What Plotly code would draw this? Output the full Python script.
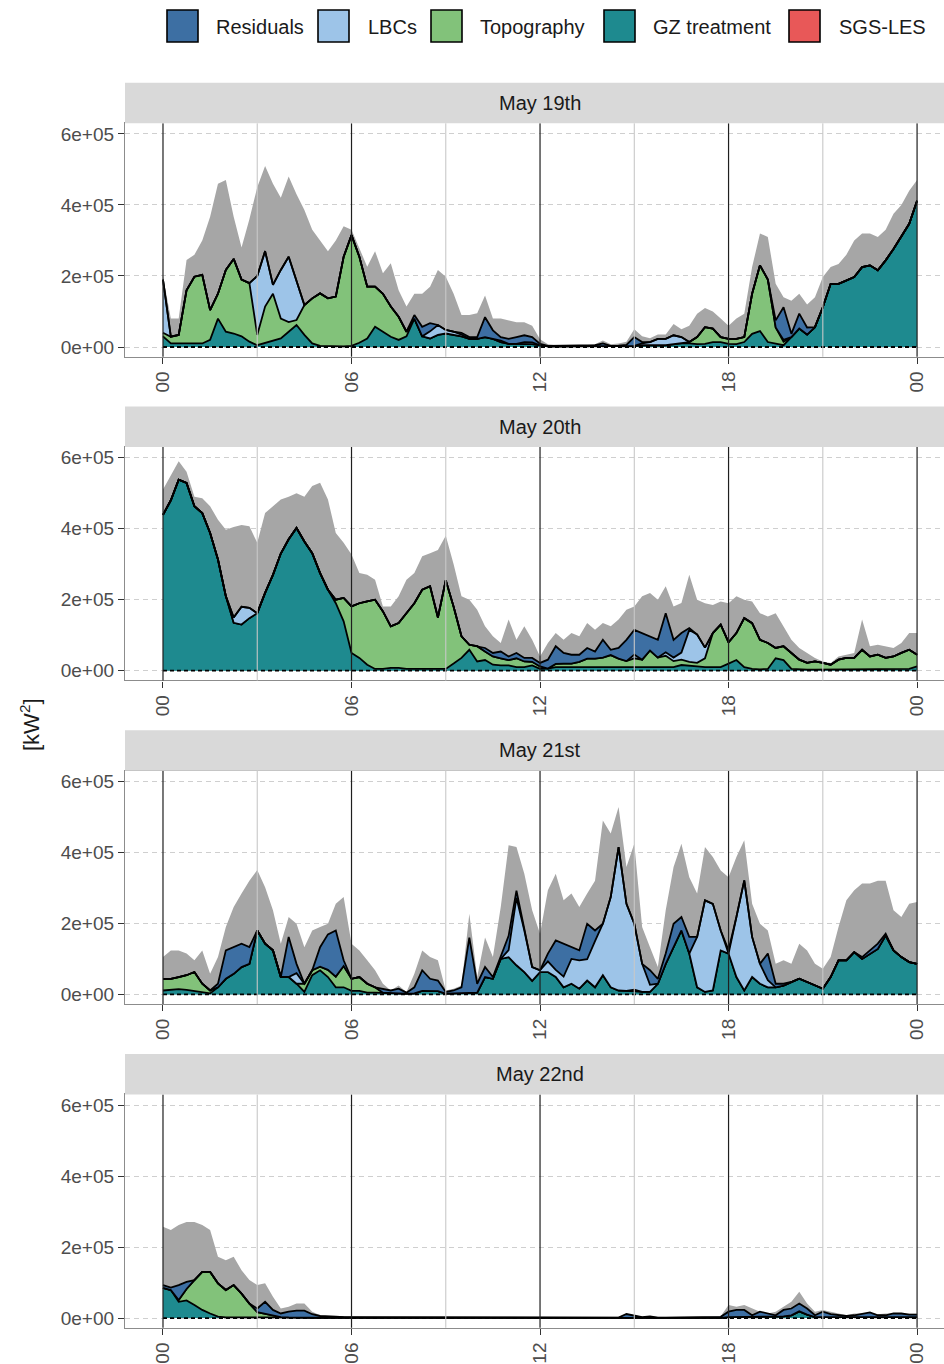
import plotly.graph_objects as go

W, H = 944, 1364
FONT = "Liberation Sans, Arial, sans-serif"

# time axis: every 15 minutes, 00h .. 24h
hours = [i / 4 for i in range(97)]

day_labels = ["May 19th", "May 20th", "May 21st", "May 22nd"]
legend_names = ["Residuals", "LBCs", "Topography", "GZ treatment", "SGS-LES"]
legend_colors = ["#3D6FA3", "#9DC4E8", "#82C27A", "#1E8A8F", "#E85858"]
total_color = "#A6A6A6"
hour_tick_vals = [0, 6, 12, 18, 24]
hour_tick_text = ["00", "06", "12", "18", "00"]
minor_hours = [3, 9, 15, 21]
y_tick_vals = [0, 2e5, 4e5, 6e5]
y_tick_text = ["0e+00", "2e+05", "4e+05", "6e+05"]
UNIT = 1e4  # values below are in units of 1e4 kW^2

# ---------------- May 19th ----------------
may19_total = [
    20, 8, 8, 24.5,  26, 30, 36.7, 46,  47, 36.7, 28, 36,  45, 51, 46, 42,
    48, 43, 38.6, 33,  30, 27, 30, 34,  33, 28, 22.6, 27,  20.8, 23.6, 16, 11.4,
    15, 15, 17, 21.7,  19.8, 15, 9, 9,  9.5, 14.5, 8, 8,  7.5, 7, 7, 6,
    2.2, 0.8, 0.5, 0.5,  0.5, 0.5, 0.6, 0.8,  1.8, 0.8, 1.0, 1.5,  5, 3, 2.5, 3.5,
    3.5, 6.5, 5, 6,  9.4, 11, 10, 8,  6, 8, 9.4, 22.5,  32, 31, 17.8, 14,
    13, 15, 12, 14,  19.7, 22.5, 23.4, 26,  30, 32, 32, 31,  33, 37.5, 40, 44,
    47,
]
may19_gz = [
    3, 1, 1, 1,  1.2, 1, 2, 8,  4.3, 3.8, 3, 1.5,  0.5, 1.2, 1.8, 2.4,
    4.3, 6.2, 3.4, 1,  0.3, 0.2, 0.2, 0.2,  0.3, 1.2, 2.4, 5.7,  4.3, 2.9, 2, 3,
    8, 3, 2.4, 3.4,  3.8, 3.4, 3, 2.3,  2.3, 2.8, 2.3, 1.4,  0.9, 0.9, 0.9, 0.8,
    0.5, 0.2, 0.2, 0.2,  0.2, 0.2, 0.2, 0.2,  0.2, 0.2, 0.2, 0.3,  0.3, 0.5, 0.4, 0.5,
    0.5, 0.8, 1, 1,  0.8, 0.9, 1.4, 1.4,  0.9, 0.8, 1.4, 3.7,  4.5, 1.4, 1, 0.5,
    2.8, 5.2, 3.5, 5.6,  11.2, 17.8, 17.8, 18.7,  19.7, 22.5, 23, 21.6,  24.4, 27.6, 31, 34.7,
    41.2,
]
may19_topo = [
    1, 1.9, 2.4, 15,  18.6, 19.3, 8.4, 7,  17.4, 21, 16, 16.5,  2.9, 10.2, 13.2, 5.6,
    2.7, 1.4, 8.4, 12.7,  14.8, 13.5, 14, 25.2,  31.2, 24.2, 14.6, 11.3,  10.7, 8.5, 6.5, 1.3,
    0, 0, 0, 0,  0, 0, 0, 0,  0, 0, 0, 0,  0, 0, 0, 0,
    0, 0, 0, 0,  0, 0, 0, 0,  0, 0, 0, 0,  0, 0, 0, 0,
    0, 0, 0, 0.4,  2, 4.7, 3.8, 1.4,  1.4, 1.5, 1.4, 11.3,  18.5, 17.6, 4.5, 1,
    0, 0, 0, 0,  0, 0, 0, 0,  0, 0, 0, 0,  0, 0, 0, 0,
    0,
]
may19_lbc = [
    15, 0, 0, 0,  0, 0, 0, 0,  0, 0, 0, 0,  16.6, 15.6, 2.5, 13.7,
    18.4, 10.8, 0, 0,  0, 0, 0, 0,  0, 0, 0, 0,  0, 0, 0, 0,
    0, 0, 2, 2.8,  1, 0.9, 0.5, 0,  0, 0, 0, 0.4,  0, 0, 0.5, 0.5,
    0, 0, 0, 0,  0, 0, 0, 0,  0, 0, 0, 0,  0, 0.5, 1, 1.8,
    1.8, 2.5, 1.8, 0,  0, 0, 0, 0,  0, 0, 0, 0,  0, 0, 0, 0.5,
    0, 0, 0, 0,  0, 0, 0, 0,  0, 0, 0, 0,  0, 0, 0, 0,
    0,
]
may19_resid = [
    0, 0, 0, 0,  0, 0, 0, 0,  0, 0, 0, 0,  0, 0, 0, 0,
    0, 0, 0, 0,  0, 0, 0, 0,  0, 0, 0, 0,  0, 0, 0, 0,
    1, 2.7, 2.3, 0,  0, 0, 0.5, 0.5,  0.5, 5.6, 2.4, 1,  1.4, 1.9, 1.9, 1.5,
    0.4, 0.1, 0.1, 0.1,  0.1, 0.1, 0.2, 0.3,  0.8, 0.1, 0.2, 0.3,  2.5, 0.4, 0, 0,
    0, 0, 0, 0,  0, 0, 0, 0,  0, 0, 0, 0,  0, 0, 2, 9.2,
    0.9, 4.2, 2, 0,  0, 0, 0, 0,  0, 0, 0, 0,  0, 0, 0, 0,
    0,
]

# ---------------- May 20th ----------------
may20_total = [
    51, 55, 59, 56,  49, 48.6, 46.3, 42.5,  39.7, 40.5, 41, 40.7,  36, 44.4, 46.3, 48.2,
    49, 50, 49, 52,  52.9, 48.2, 38.8, 36,  32.7, 27.5, 27, 25.6,  18.1, 18.1, 21, 25.6,
    27.5, 32.2, 33.1, 34,  38, 30, 21, 20,  17.2, 12.5, 9.7, 7.8,  14.4, 8.7, 12.5, 8.7,
    4, 7.8, 10.6, 8.7,  10.6, 9.7, 13.4, 11.5,  13.4, 12.5, 14.4, 17.2,  18.1, 21, 21.9, 20,
    23.8, 18.1, 19.1, 27,  20, 19, 18.5, 19.5,  19, 21, 20, 19.5,  16.2, 15.3, 16.2, 12.5,
    8.7, 6.4, 5, 3.6,  2.6, 2.2, 4, 4.5,  5, 14.4, 6.9, 7.3,  6.9, 6.4, 7.8, 10.6,
    10.6,
]
may20_gz = [
    43.9, 48, 53.8, 52.9,  46.3, 44.4, 38.8, 31.3,  21, 13.5, 13, 14.8,  16.2, 21.9, 27, 33,
    37, 40.2, 36.4, 33.1,  27.5, 22.8, 19, 13.9,  5, 3.6, 1.7, 0.5,  0.5, 0.8, 0.8, 0.5,
    0.5, 0.5, 0.3, 0.5,  0.5, 2, 3.6, 5.9,  2.6, 3, 1.7, 1.5,  1.5, 1, 1, 1.5,
    0.5, 0.6, 1, 1,  1, 1, 1, 1,  1, 1, 1, 1,  1, 1.1, 1, 1,
    1.2, 1, 1.6, 1.5,  1.2, 1, 1, 1,  2, 3, 1, 0.5,  0.4, 0.5, 3.5, 3,
    0.5, 0.3, 0.3, 0.3,  0.3, 0.3, 0.3, 0.3,  0.3, 0.3, 0.3, 0.3,  0.3, 0.3, 0.3, 0.5,
    1.2,
]
may20_topo = [
    0, 0, 0, 0,  0, 0, 0, 0,  0, 0, 0, 0,  0, 0, 0, 0,
    0, 0, 0, 0,  0, 0, 1, 6.6,  13.1, 15.4, 17.8, 19.5,  16.2, 11.7, 12.6, 15.7,
    18.5, 22.3, 23.5, 14.5,  25, 16, 6.1, 1.4,  4.3, 2.4, 2.3, 2,  1.5, 2.5, 1.6, 1,
    0.7, 0, 0.9, 1,  1, 1.5, 2.4, 2.4,  2.7, 3.4, 2.4, 1.7,  2.5, 2, 4.7, 2.7,
    3, 1.7, 1.5, 1,  1, 2.5, 9.6, 12,  6, 7.6, 13.8, 12.9,  8.3, 7.3, 2.9, 3.9,
    4.5, 2.8, 1.9, 2.3,  1.9, 1.4, 2.8, 3.3,  3.3, 5.6, 3.7, 4.2,  3.3, 3.7, 4.7, 5.4,
    3.3,
]
may20_lbc = [
    0, 0, 0, 0,  0, 0, 0, 0,  0, 1.5, 5, 2.9,  0, 0, 0, 0,
    0, 0, 0, 0,  0, 0, 0, 0,  0, 0, 0, 0,  0, 0, 0, 0,
    0, 0, 0, 0,  0, 0, 0, 0,  0, 0, 0, 0,  0, 0, 0, 0,
    0, 0, 0, 0,  0, 0, 0, 0,  0, 0, 0, 0,  1, 0, 0, 0,
    1, 1, 2, 9,  8, 3, 0, 0,  0, 0, 0, 0,  0, 0, 0, 0,
    0, 0, 0, 0,  0, 0, 0, 0,  0, 0, 0, 0,  0, 0, 0, 0,
    0,
]
may20_resid = [
    0, 0, 0, 0,  0, 0, 0, 0,  0, 0, 0, 0,  0, 0, 0, 0,
    0, 0, 0, 0,  0, 0, 0, 0,  0, 0, 0, 0,  0, 0, 0, 0,
    0, 0, 0, 0,  0, 0, 0, 0,  0, 1, 1, 1.9,  1, 1.5, 1, 1.1,
    1, 2.5, 5, 3,  2.5, 2, 3, 2,  5, 1.5, 3, 6,  7, 7.5, 4, 5,
    11, 5, 5.5, 0.5,  0, 0, 0, 0,  0, 0, 0, 0,  0, 0, 0, 0,
    0, 0, 0, 0,  0, 0, 0, 0,  0, 0, 0, 0,  0, 0, 0, 0,
    0,
]

# ---------------- May 21st ----------------
may21_total = [
    10.5, 12.4, 12.4, 11.5,  9.6, 12.4, 5.8, 10.5,  19, 24.6, 28.4, 32,  35, 30.2, 23.7, 14.3,
    21.8, 19.9, 13.3, 18,  19, 19.9, 25.5, 27.4,  14.3, 12.4, 9.6, 6.8,  3, 1.1, 2.5, 0.7,
    5.8, 12.4, 10.5, 9.6,  1.1, 1.6, 2.5, 22.7,  4.9, 16, 10.5, 24.6,  42, 41.5, 34, 23.7,
    17.1, 29.3, 34, 26.5,  28.4, 24.6, 28.4, 32,  49, 45.3, 52.8, 35.9,  42.4, 19, 13.3, 7.7,
    23.7, 35.9, 42.4, 33,  28.4, 41.5, 38.7, 34.9,  33, 38.7, 43.4, 25.5,  19.9, 18, 8.6, 9.6,
    8.6, 14.3, 12.4, 8.6,  7.2, 10.5, 19, 26.5,  29.3, 31.2, 31.2, 32,  32, 23.7, 21.8, 25.5,
    26,
]
may21_gz = [
    1.1, 1.3, 1.5, 1.3,  1, 0.5, 0.3, 2,  4.4, 5.8, 7.7, 8.6,  18, 14.3, 12.4, 4.9,
    4.9, 3, 0.7, 5.4,  6.8, 4.9, 2, 2,  1, 1, 0.5, 0.5,  0.5, 0.3, 0.3, 0.2,
    0.3, 1, 1, 0.9,  0.2, 0.3, 0.5, 0.5,  0.5, 4.9, 4.4, 10,  10.5, 8.2, 6.3, 3.8,
    6.3, 6.3, 4.9, 2,  3, 1.6, 3.9, 2,  5.4, 2, 1.1, 1,  0.8, 0.7, 0.7, 3,
    8.6, 13.3, 18, 11.5,  2, 0.7, 1.1, 12.4,  11.5, 4.9, 1.1, 4.9,  3, 2, 2, 2.5,
    3.5, 4.4, 3.5, 2.5,  1.6, 4.9, 9.6, 9.6,  11.9, 10, 11.4, 12.8,  16.6, 12.4, 10.5, 9.1,
    8.6,
]
may21_topo = [
    3.3, 3.1, 3.4, 4.1,  5.3, 2.5, 0.8, 0,  0, 0, 0, 0,  0, 0, 0, 0,
    0, 0, 2.3, 1.4,  1, 2, 3, 6,  3.4, 3.9, 2.5, 1.5,  0, 0, 0, 0,
    0, 0, 0, 0,  0, 0, 0, 0,  0, 0, 0, 0,  0, 0, 0, 0,
    0, 0, 0, 0,  0, 0, 0, 0,  0, 0, 0, 0,  0.5, 0, 0, 0,
    0, 0, 0, 0,  0, 0, 0, 0,  0, 0, 0, 0,  0, 0, 0, 0,
    0, 0, 0, 0,  0, 0, 0, 0,  0, 0, 0, 0,  0, 0, 0, 0,
    0,
]
may21_lbc = [
    0, 0, 0, 0,  0, 0, 0, 0,  0, 0, 0, 0,  0, 0, 0, 0,
    0, 3, 0, 0,  0, 0, 0, 0,  0, 0, 0, 0,  0, 0, 0, 0,
    0, 0, 0, 0,  0, 0, 0, 0,  0, 0, 0, 0,  2, 19, 11.7, 3.9,
    0.5, 3, 2, 3,  7, 8, 6, 13,  14.5, 25.4, 40.4, 24.5,  18.6, 7.9, 2, 0,
    0, 0, 0, 0,  14.2, 25.8, 24.4, 5.6,  0, 16.9, 31, 11.3,  5.6, 2, 0, 0,
    0, 0, 0, 0,  0, 0, 0, 0,  0, 0, 0, 0,  0, 0, 0, 0,
    0,
]
may21_resid = [
    0, 0, 0, 0,  0, 0, 0, 1,  8, 7.5, 6.6, 4.7,  0, 0, 0, 0,
    11.3, 2.6, 0, 0,  5.5, 10, 13, 1.6,  0, 0, 0, 0,  1.1, 0.8, 1.3, 0.3,
    1.7, 5.8, 3.4, 3,  0.5, 0.8, 1.5, 15.5,  2.5, 2.8, 0.5, 0.5,  4, 2, 0, 0,
    0, 2.2, 8.3, 9.3,  3.3, 2.8, 10, 3,  0, 0, 0, 0,  0, 0, 4.1, 1.4,
    2.9, 6.6, 3.8, 4.7,  0, 0, 0, 0,  1, 0, 0, 0,  0, 7.5, 1, 0.5,
    0, 0, 0, 0,  0, 0, 0, 0,  0, 0.5, 1, 1.5,  0.5, 0, 0, 0,
    0,
]

# ---------------- May 22nd ----------------
may22_total = [
    25.7, 24.8, 26.2, 27.1,  27.1, 26.2, 24.8, 17.3,  16.3, 17.3, 13.5, 10.7,  9.3, 9.8, 6, 2.7,
    3.2, 4.1, 4.1, 1.8,  0.8, 0.5, 0.5, 0.4,  0.4, 0.3, 0.3, 0.3,  0.3, 0.3, 0.3, 0.3,
    0.3, 0.3, 0.3, 0.3,  0.3, 0.3, 0.3, 0.3,  0.3, 0.3, 0.3, 0.3,  0.3, 0.3, 0.3, 0.3,
    0.3, 0.3, 0.3, 0.3,  0.3, 0.3, 0.4, 0.3,  0.3, 0.4, 0.3, 1.3,  0.8, 0.4, 0.6, 0.3,
    0.3, 0.3, 0.3, 0.3,  0.3, 0.3, 0.3, 0.5,  3.7, 3.2, 3.7, 2.7,  1.8, 1.3, 1.8, 3.2,
    4.6, 7.4, 4.1, 1.8,  2.3, 1.8, 1.3, 0.8,  1.3, 1.3, 1.6, 1.1,  1.3, 1.3, 1.3, 1.3,
    1.2,
]
may22_gz = [
    8.5, 7.9, 4.6, 5,  3.7, 2.3, 1.3, 0.4,  0.2, 0.2, 0.2, 0.2,  0.2, 0.2, 0.2, 0.1,
    0.1, 0.1, 0.1, 0.1,  0.1, 0.1, 0.1, 0.1,  0.1, 0.05, 0.05, 0.05,  0.05, 0.05, 0.05, 0.05,
    0.05, 0.05, 0.05, 0.05,  0.05, 0.05, 0.05, 0.05,  0.05, 0.05, 0.05, 0.05,  0.05, 0.05, 0.05, 0.05,
    0.05, 0.05, 0.05, 0.05,  0.05, 0.05, 0.05, 0.05,  0.05, 0.05, 0.05, 0.05,  0.05, 0.05, 0.05, 0.05,
    0.05, 0.05, 0.05, 0.05,  0.05, 0.05, 0.05, 0.05,  0.3, 0.3, 0.3, 0.3,  0.3, 0.3, 0.3, 0.5,
    0.8, 1.9, 1, 0.3,  0.3, 0.3, 0.3, 0.3,  0.3, 0.3, 0.3, 0.3,  0.3, 0.3, 0.3, 0.3,
    0.3,
]
may22_topo = [
    0, 0, 0.5, 3.2,  7, 10.7, 11.7, 9.4,  7.7, 9.1, 6.7, 3.9,  1.5, 1, 0.6, 0.2,
    0.1, 0, 0, 0,  0, 0, 0, 0,  0, 0, 0, 0,  0, 0, 0, 0,
    0, 0, 0, 0,  0, 0, 0, 0,  0, 0, 0, 0,  0, 0, 0, 0,
    0, 0, 0, 0,  0, 0, 0, 0,  0, 0, 0, 0,  0, 0, 0, 0,
    0, 0, 0, 0,  0, 0, 0, 0,  0, 0, 0, 0,  0, 0, 0, 0,
    0, 0, 0, 0,  0, 0, 0, 0,  0, 0, 0, 0,  0, 0, 0, 0,
    0,
]
may22_lbc = [
    0, 0, 0, 0,  0, 0, 0, 0,  0, 0, 0, 0,  0, 0, 0, 0,
    0, 0, 0, 0,  0, 0, 0, 0,  0, 0, 0, 0,  0, 0, 0, 0,
    0, 0, 0, 0,  0, 0, 0, 0,  0, 0, 0, 0,  0, 0, 0, 0,
    0, 0, 0, 0,  0, 0, 0, 0,  0, 0, 0, 0,  0, 0, 0, 0,
    0, 0, 0, 0,  0, 0, 0, 0,  0, 0, 0, 0,  0, 0, 0, 0,
    0, 0, 0, 0,  0, 0, 0, 0,  0, 0, 0, 0,  0, 0, 0, 0,
    0,
]
may22_resid = [
    0.8, 0.7, 4.2, 2,  0, 0, 0, 0,  0, 0, 0, 0,  1, 3.4, 1.5, 1,
    1.6, 2, 2, 1,  0.5, 0.3, 0.3, 0.2,  0.2, 0.1, 0.1, 0.1,  0.1, 0.1, 0.1, 0.1,
    0.1, 0.1, 0.1, 0.1,  0.1, 0.1, 0.1, 0.1,  0.1, 0.1, 0.1, 0.1,  0.1, 0.1, 0.1, 0.1,
    0.1, 0.1, 0.1, 0.1,  0.1, 0.1, 0.1, 0.1,  0.1, 0.1, 0.1, 1.1,  0.6, 0.2, 0.4, 0.1,
    0.1, 0.1, 0.1, 0.1,  0.1, 0.1, 0.1, 0.3,  1.5, 2, 2, 0.5,  1.5, 1, 0.5, 1.8,
    1.9, 2.2, 1.7, 0.5,  1.5, 0.8, 0.5, 0.3,  0.5, 1, 1.3, 0.5,  0.5, 1, 1, 0.7,
    0.7,
]

# SGS-LES contribution reads as zero throughout (only its dashed outline is visible)
sgs_les = [0.0] * len(hours)

days = [
    dict(total=may19_total, gz=may19_gz, topo=may19_topo, lbc=may19_lbc, resid=may19_resid),
    dict(total=may20_total, gz=may20_gz, topo=may20_topo, lbc=may20_lbc, resid=may20_resid),
    dict(total=may21_total, gz=may21_gz, topo=may21_topo, lbc=may21_lbc, resid=may21_resid),
    dict(total=may22_total, gz=may22_gz, topo=may22_topo, lbc=may22_lbc, resid=may22_resid),
]

# ---------------- layout geometry (pixels) ----------------
panel_px = [(123.3, 356.7), (447.0, 680.4), (770.7, 1004.1), (1094.4, 1327.8)]
STRIP_H = 40.5
PANEL_LEFT = 125
X_RANGE = [-1.209, 24.857]
Y_RANGE = [-2.73e4, 6.30e5]


def pyf(p):
    return 1 - p / H


def pxf(p):
    return p / W


fig = go.Figure()
shapes = []
annotations = []
layout_axes = {}

color_of = dict(zip(legend_names, legend_colors))
stack_order = [("SGS-LES", None), ("GZ treatment", "gz"), ("Topography", "topo"),
               ("LBCs", "lbc"), ("Residuals", "resid")]

for i, day in enumerate(days):
    n = i + 1
    xa = "x" if n == 1 else f"x{n}"
    ya = "y" if n == 1 else f"y{n}"
    fig.add_trace(go.Scatter(
        x=hours, y=[v * UNIT for v in day["total"]], xaxis=xa, yaxis=ya,
        mode="lines", line=dict(width=0, color=total_color), fill="tozeroy",
        fillcolor=total_color, showlegend=False, hoverinfo="skip"))
    for name, key in stack_order:
        vals = sgs_les if key is None else day[key]
        fig.add_trace(go.Scatter(
            x=hours, y=[v * UNIT for v in vals], xaxis=xa, yaxis=ya,
            mode="lines", stackgroup=f"s{n}", name=name,
            line=dict(color="black", width=1.8, dash="4px,3px" if key is None else "solid"),
            fillcolor=color_of[name], showlegend=False, hoverinfo="skip"))

    top, bot = panel_px[i]
    layout_axes["xaxis" if n == 1 else f"xaxis{n}"] = dict(
        domain=[pxf(PANEL_LEFT), 1], range=X_RANGE, anchor=ya,
        tickmode="array", tickvals=hour_tick_vals, ticktext=hour_tick_text,
        tickangle=-90, ticks="outside", ticklen=6, tickwidth=1.2, tickcolor="#333333",
        showgrid=False, zeroline=False, showline=True, linecolor="#8C8C8C",
        linewidth=1.2, mirror=True, automargin=False, fixedrange=True,
        tickfont=dict(family=FONT, size=19, color="#4D4D4D"))
    layout_axes["yaxis" if n == 1 else f"yaxis{n}"] = dict(
        domain=[pyf(bot), pyf(top)], range=Y_RANGE, anchor=xa,
        tickmode="array", tickvals=y_tick_vals, ticktext=y_tick_text,
        ticks="outside", ticklen=6, tickwidth=1.2, tickcolor="#333333",
        showgrid=True, gridcolor="#CFCFCF", gridwidth=1, griddash="5px,4px",
        zeroline=False, showline=True, linecolor="#8C8C8C", linewidth=1.2,
        mirror=False, automargin=False, fixedrange=True,
        tickfont=dict(family=FONT, size=19, color="#4D4D4D"))

    # vertical hour lines drawn above the areas
    for h in minor_hours:
        shapes.append(dict(type="line", xref=xa, yref=f"{ya} domain", x0=h, x1=h, y0=0, y1=1,
                           line=dict(color="#C8C8C8", width=1.1), layer="above"))
    for h in hour_tick_vals:
        shapes.append(dict(type="line", xref=xa, yref=f"{ya} domain", x0=h, x1=h, y0=0, y1=1,
                           line=dict(color="#1F1F1F", width=1.2), layer="above"))

    # facet strip
    shapes.append(dict(type="rect", xref="paper", yref="paper",
                       x0=pxf(PANEL_LEFT), x1=1, y0=pyf(top), y1=pyf(top - STRIP_H),
                       fillcolor="#D9D9D9", line=dict(width=0), layer="above"))
    annotations.append(dict(x=pxf(540), y=pyf(top - STRIP_H / 2), xref="paper", yref="paper",
                            text=day_labels[i], showarrow=False, xanchor="center",
                            yanchor="middle", font=dict(family=FONT, size=20, color="#1A1A1A")))

# manual legend
legend_box_left = [167, 318, 431, 604, 789]
legend_text_left = [214, 366, 478, 651, 837]
for name, col, bx, tx in zip(legend_names, legend_colors, legend_box_left, legend_text_left):
    shapes.append(dict(type="rect", xref="paper", yref="paper",
                       x0=pxf(bx), x1=pxf(bx + 31), y0=pyf(42), y1=pyf(10),
                       fillcolor=col, line=dict(color="black", width=1.6)))
    annotations.append(dict(x=pxf(tx), y=pyf(27), xref="paper", yref="paper", text=name,
                            showarrow=False, xanchor="left", yanchor="middle",
                            font=dict(family=FONT, size=20, color="#1A1A1A")))

# y-axis title
annotations.append(dict(x=pxf(30), y=pyf(725), xref="paper", yref="paper",
                        text="[kW<sup>2</sup>]", textangle=-90, showarrow=False,
                        xanchor="center", yanchor="middle",
                        font=dict(family=FONT, size=22, color="#1A1A1A")))

fig.update_layout(
    width=W, height=H, autosize=False,
    margin=dict(l=0, r=0, t=0, b=0),
    paper_bgcolor="white", plot_bgcolor="white",
    showlegend=False, shapes=shapes, annotations=annotations,
    font=dict(family=FONT),
    **layout_axes,
)

fig.write_html("out.html")
